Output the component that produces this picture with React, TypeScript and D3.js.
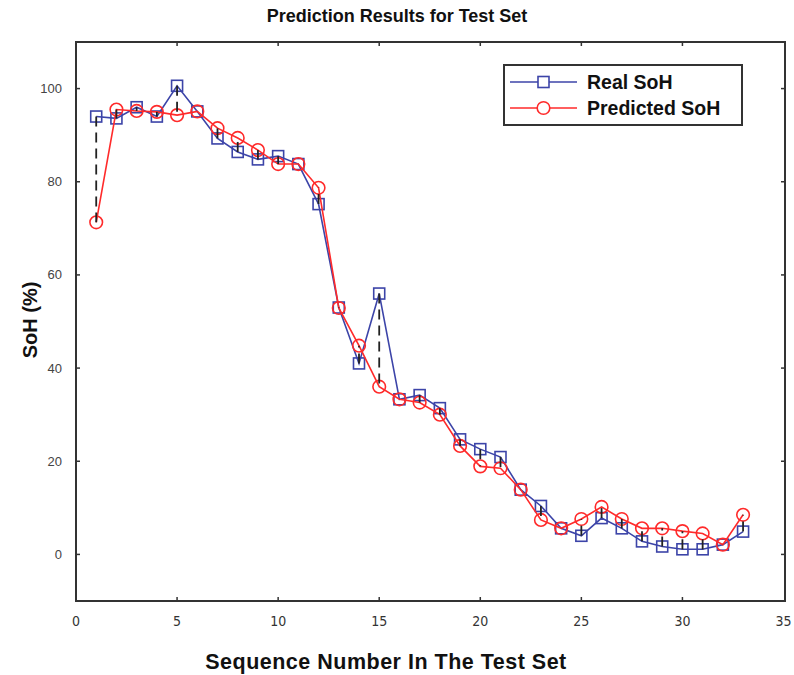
import * as d3 from "d3";
import React from "react";

// sequence numbers in the test set
const seq = d3.range(1, 34);
// measured state of health (%)
const realSoH = [
  94, 93.6, 96, 94, 100.6, 95.1, 89.3, 86.4, 84.8, 85.5, 83.8, 75.2, 53, 41, 56,
  33.3, 34.2, 31.4, 24.7, 22.6, 20.9, 13.9, 10.4, 5.6, 4, 7.8, 5.6, 2.8, 1.7, 1.1,
  1.1, 2.1, 4.9,
];
// predicted state of health (%)
const predSoH = [
  71.3, 95.5, 95.2, 95, 94.3, 95.1, 91.5, 89.4, 86.8, 83.8, 83.8, 78.7, 52.9, 44.8,
  36, 33.3, 32.6, 30, 23.3, 18.9, 18.5, 13.9, 7.4, 5.6, 7.6, 10.2, 7.6, 5.6, 5.6,
  5, 4.5, 2.1, 8.5,
];
const xTicks = [0, 5, 10, 15, 20, 25, 30, 35];
const yTicks = [0, 20, 40, 60, 80, 100];

const W = 794;
const H = 675;
const box = { left: 76, right: 785, top: 42, bottom: 601 };
const blue = "#3c44a8";
const red = "#ff2a2a";

export default function App() {
  const x = d3.scaleLinear().domain([0, 35]).range([76, 783.5]);
  const y = d3.scaleLinear().domain([-10, 110]).range([box.bottom, box.top]);

  const realLine = d3
    .line<number>()
    .x((_, i) => x(seq[i]))
    .y((d) => y(d))(realSoH);
  const predLine = d3
    .line<number>()
    .x((_, i) => x(seq[i]))
    .y((d) => y(d))(predSoH);

  const tickLen = 4;
  const font = "'Liberation Sans', Arial, sans-serif";
  const narrow = "'Liberation Sans Narrow', 'DejaVu Sans Condensed', sans-serif";

  return (
    <svg width={W} height={H} style={{ display: "block", position: "absolute", left: 0, top: 0 }}>
      <rect width={W} height={H} fill="#fff" />
      <text x={397} y={22} textAnchor="middle" fontFamily={font} fontWeight="bold" fontSize={18} fill="#111">
        Prediction Results for Test Set
      </text>

      {/* ticks, inward on all sides */}
      <g stroke="#333" strokeWidth={1.5}>
        {xTicks.slice(1, -1).map((t) => (
          <g key={"xt" + t}>
            <line x1={x(t)} x2={x(t)} y1={box.bottom} y2={box.bottom - tickLen} />
            <line x1={x(t)} x2={x(t)} y1={box.top} y2={box.top + tickLen} />
          </g>
        ))}
        {yTicks.map((t) => (
          <g key={"yt" + t}>
            <line x1={box.left} x2={box.left + tickLen} y1={y(t)} y2={y(t)} />
            <line x1={box.right} x2={box.right - tickLen} y1={y(t)} y2={y(t)} />
          </g>
        ))}
      </g>
      <rect
        x={box.left}
        y={box.top}
        width={box.right - box.left}
        height={box.bottom - box.top}
        fill="none"
        stroke="#333"
        strokeWidth={2}
      />

      {xTicks.map((t) => (
        <text key={"xl" + t} x={x(t)} y={626} textAnchor="middle" fontFamily={narrow} fontSize={14} fill="#333">
          {t}
        </text>
      ))}
      {yTicks.map((t) => (
        <text key={"yl" + t} x={62} y={y(t) + 4.5} textAnchor="end" fontFamily={font} fontSize={13} fill="#444">
          {t}
        </text>
      ))}

      <text
        x={386}
        y={669}
        textAnchor="middle"
        fontFamily={font}
        fontWeight="bold"
        fontSize={21.5}
        letterSpacing={0.5}
        fill="#111"
      >
        Sequence Number In The Test Set
      </text>
      <text
        transform={`translate(37, 320) rotate(-90)`}
        textAnchor="middle"
        fontFamily={font}
        fontWeight="bold"
        fontSize={20}
        fill="#111"
      >
        SoH (%)
      </text>

      {/* series */}
      <path d={realLine ?? ""} fill="none" stroke={blue} strokeWidth={1.6} />
      {realSoH.map((v, i) => (
        <rect
          key={"rs" + i}
          x={x(seq[i]) - 5.5}
          y={y(v) - 5.5}
          width={11}
          height={11}
          fill="none"
          stroke={blue}
          strokeWidth={1.6}
        />
      ))}
      <path d={predLine ?? ""} fill="none" stroke={red} strokeWidth={1.6} />
      {predSoH.map((v, i) => (
        <circle key={"pc" + i} cx={x(seq[i])} cy={y(v)} r={6.3} fill="none" stroke={red} strokeWidth={1.6} />
      ))}

      {/* error segments */}
      {realSoH.map((v, i) => (
        <line
          key={"err" + i}
          x1={x(seq[i])}
          x2={x(seq[i])}
          y1={y(v)}
          y2={y(predSoH[i])}
          stroke="#222"
          strokeWidth={1.8}
          strokeDasharray="10,6"
        />
      ))}

      {/* legend */}
      <rect x={504} y={65} width={238} height={60} fill="#fff" stroke="#333" strokeWidth={2} />
      <line x1={510} x2={577} y1={82} y2={82} stroke={blue} strokeWidth={1.6} />
      <rect x={538} y={76.5} width={11} height={11} fill="#fff" stroke={blue} strokeWidth={1.6} />
      <line x1={510} x2={577} y1={108} y2={108} stroke={red} strokeWidth={1.6} />
      <circle cx={543.5} cy={108} r={6.3} fill="#fff" stroke={red} strokeWidth={1.6} />
      <text x={587} y={89} fontFamily={font} fontWeight="bold" fontSize={19.5} fill="#111">
        Real SoH
      </text>
      <text x={587} y={115} fontFamily={font} fontWeight="bold" fontSize={19.5} fill="#111">
        Predicted SoH
      </text>
    </svg>
  );
}
